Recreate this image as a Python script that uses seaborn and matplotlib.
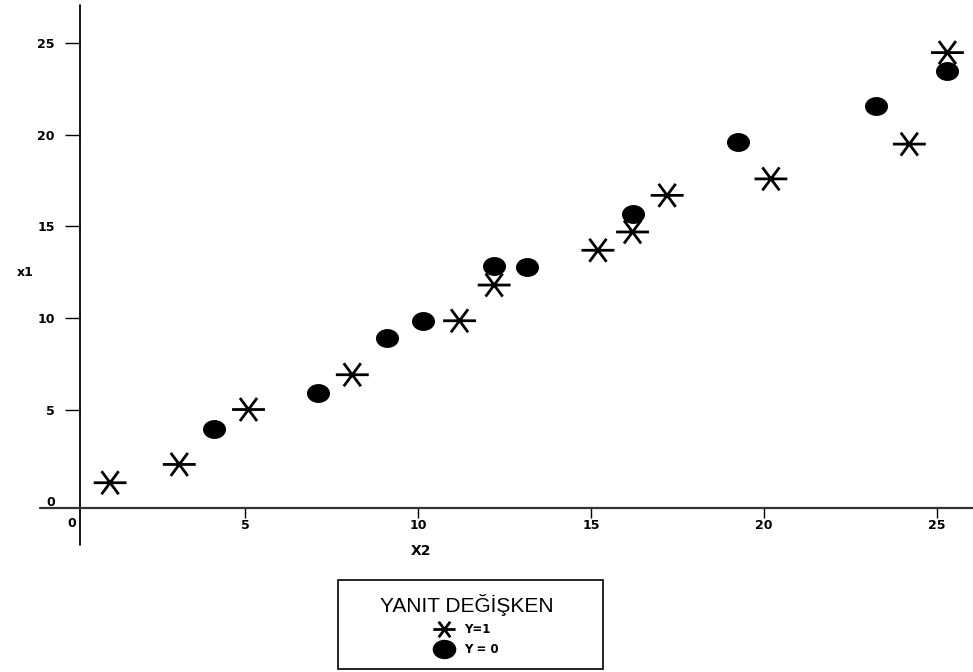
import numpy as np
import pandas as pd
import seaborn as sns
import matplotlib.pyplot as plt
from matplotlib.path import Path
from matplotlib.transforms import Affine2D
from matplotlib.lines import Line2D
from matplotlib.patches import Rectangle

# Datos
x2_y1 = [1.1, 3.1, 5.1, 8.1, 11.2, 12.2, 15.2, 16.2, 17.2, 20.2, 24.2, 25.3]
x1_y1 = [1.0, 2.0, 5.0, 6.9, 9.85, 11.8, 13.7, 14.7, 16.7, 17.6, 19.5, 24.5]
x2_y0 = [4.1, 7.1, 9.1, 10.15, 12.2, 13.15, 16.2, 19.25, 23.25, 25.3]
x1_y0 = [3.95, 5.9, 8.9, 9.85, 12.85, 12.8, 15.7, 19.6, 21.6, 23.5]
labels = ["Y=1", "Y = 0"]
xticks = [5, 10, 15, 20, 25]
yticks = [0, 5, 10, 15, 20, 25]

df = pd.DataFrame({
    "X2": x2_y1 + x2_y0,
    "x1": x1_y1 + x1_y0,
    "Y": [labels[0]] * len(x2_y1) + [labels[1]] * len(x2_y0),
})

sns.set_style("white")
plt.rcParams["font.family"] = ["Liberation Sans", "DejaVu Sans"]
plt.rcParams["text.color"] = "black"
plt.rcParams["axes.labelcolor"] = "black"

# Marcadores: asterisco con brazo horizontal largo y elipse
star = Path([(-1, 0), (1, 0), (-0.52, -0.7), (0.52, 0.7), (-0.52, 0.7), (0.52, -0.7)],
            [Path.MOVETO, Path.LINETO, Path.MOVETO, Path.LINETO, Path.MOVETO, Path.LINETO])
ellipse = Path.unit_circle().transformed(Affine2D().scale(1, 0.82))

fig = plt.figure(figsize=(9.73, 6.72), dpi=100)
ax = fig.add_axes([80 / 973, 1 - 508 / 672, 893 / 973, 503 / 672])

sns.scatterplot(data=df[df.Y == labels[1]], x="X2", y="x1", marker=ellipse, s=275,
                color="black", edgecolor="black", linewidth=0, ax=ax, legend=False)
sns.scatterplot(data=df[df.Y == labels[0]], x="X2", y="x1", marker=star, s=560,
                facecolor="none", edgecolor="black", linewidth=2.0, ax=ax, legend=False)

ax.set_xlim(0.23, 26.04)
ax.set_ylim(-0.38, 27.1)
ax.set_xticks(xticks)
ax.set_yticks(yticks)
ax.set_xticklabels([str(t) for t in xticks], fontweight="bold", fontsize=9, family="DejaVu Sans")
ax.set_yticklabels([str(t) for t in yticks], fontweight="bold", fontsize=9, family="DejaVu Sans")
ax.tick_params(axis="x", direction="out", length=7, width=1, pad=1, bottom=True, colors="black")
ax.tick_params(axis="y", direction="out", length=11, width=1, pad=7, left=True, colors="black")
ax.yaxis.get_major_ticks()[0].tick1line.set_visible(False)
ax.text(0, -0.018, "0", transform=ax.get_xaxis_transform(), ha="center", va="top",
        fontweight="bold", fontsize=9, family="DejaVu Sans")

for s in ax.spines.values():
    s.set_visible(False)
ax.plot([0, 0], [-0.074, 1], transform=ax.transAxes, color="black", lw=1.3, clip_on=False)
ax.plot([-0.045, 1], [0, 0], transform=ax.transAxes, color="#333333", lw=1.6, clip_on=False)

ax.set_xlabel("X2", fontweight="bold", fontsize=10, family="DejaVu Sans", va="center")
ax.set_ylabel("x1", fontweight="bold", fontsize=9, family="DejaVu Sans", rotation=0,
              ha="center", va="center")
ax.xaxis.set_label_coords(0.382, -0.0855)
ax.yaxis.set_label_coords(-0.0616, 0.469)

# Leyenda
handles = [Line2D([], [], marker=star, linestyle="none", markersize=16, markerfacecolor="none",
                  markeredgecolor="black", markeredgewidth=2.0),
           Line2D([], [], marker=ellipse, linestyle="none", markersize=17, color="black",
                  markeredgewidth=0)]
leg = fig.legend(handles, labels, title="YANIT DEĞİŞKEN", loc="center",
                 bbox_to_anchor=(467 / 973, 1 - 625 / 672), frameon=False,
                 prop={"weight": "bold", "size": 8.5, "family": "DejaVu Sans"},
                 title_fontsize=15, handlelength=1.6, handletextpad=0.9, labelspacing=0.6,
                 borderpad=0)
fig.add_artist(Rectangle((338 / 973, 1 - 669 / 672), 265 / 973, 89 / 672,
                         transform=fig.transFigure, fill=False, edgecolor="black", lw=1.2))

fig.savefig("out.png", dpi=100)
